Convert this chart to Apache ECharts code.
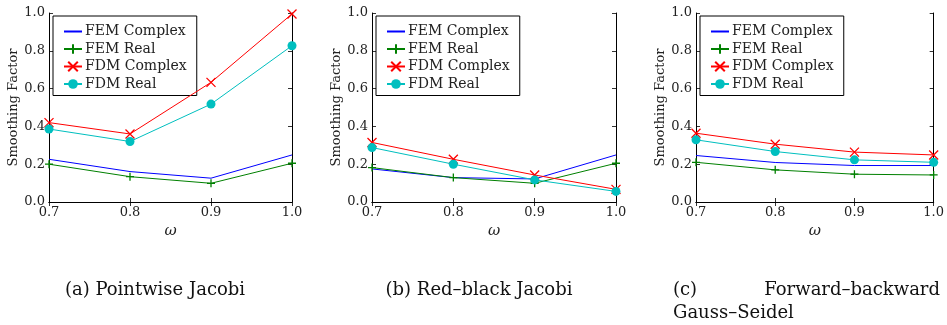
<!DOCTYPE html>
<html>
<head>
<meta charset="utf-8">
<script src="https://cdn.jsdelivr.net/npm/echarts@6/dist/echarts.min.js"></script>
<style>
html,body{margin:0;padding:0;background:#fff;}
#c{width:947px;height:325px;}
</style>
</head>
<body>
<div id="c"></div>
<script>
// ---- data ----
var omega = ['0.7', '0.8', '0.9', '1.0'];
var yTicks = [0, 0.2, 0.4, 0.6, 0.8, 1.0];
var seriesNames = ['FEM Complex', 'FEM Real', 'FDM Complex', 'FDM Real'];
var captions = ['(a) Pointwise Jacobi', '(b) Red\u2013black Jacobi', '(c)', 'Forward\u2013backward', 'Gauss\u2013Seidel'];

// (a) Pointwise Jacobi
var jacFemComplex = [0.226, 0.161, 0.126, 0.249];
var jacFemReal    = [0.200, 0.134, 0.099, 0.205];
var jacFdmComplex = [0.420, 0.360, 0.633, 0.995];
var jacFdmReal    = [0.386, 0.320, 0.518, 0.827];
// (b) Red-black Jacobi
var rbFemComplex = [0.175, 0.129, 0.122, 0.249];
var rbFemReal    = [0.182, 0.129, 0.099, 0.205];
var rbFdmComplex = [0.315, 0.226, 0.143, 0.067];
var rbFdmReal    = [0.288, 0.200, 0.117, 0.056];
// (c) Forward-backward Gauss-Seidel
var gsFemComplex = [0.246, 0.209, 0.193, 0.193];
var gsFemReal    = [0.210, 0.170, 0.147, 0.143];
var gsFdmComplex = [0.364, 0.306, 0.264, 0.249];
var gsFdmReal    = [0.329, 0.267, 0.223, 0.210];

var panels = [
  [jacFemComplex, jacFemReal, jacFdmComplex, jacFdmReal],
  [rbFemComplex, rbFemReal, rbFdmComplex, rbFdmReal],
  [gsFemComplex, gsFemReal, gsFdmComplex, gsFdmReal]
];

// ---- styling ----
var SERIF = 'DejaVu Serif';
var colors = ['#0000ff', '#008000', '#ff0000', '#00bfbf'];
var symbols = [
  'circle',
  'path://M0,5L10,5M5,0L5,10',
  'path://M0,0L10,10M10,0L0,10',
  'circle'
];
var symbolSizes = [2, 8, 9, 9];
var grids = [
  {left: 49, top: 13, width: 243, height: 189},
  {left: 372, top: 13, width: 244, height: 189},
  {left: 696, top: 13, width: 244, height: 189}
];

var option = {
  backgroundColor: '#fff',
  animation: false,
  textStyle: {fontFamily: SERIF},
  grid: [], xAxis: [], yAxis: [], series: [], legend: [], graphic: []
};

grids.forEach(function (g, i) {
  option.grid.push({left: g.left, top: g.top, width: g.width, height: g.height, containLabel: false});
  var axLine = {show: true, lineStyle: {color: '#000', width: 1}};
  var tick = {show: true, inside: true, length: 4, lineStyle: {color: '#000', width: 0.8}};
  option.xAxis.push({
    type: 'category', gridIndex: i, data: omega, boundaryGap: false, position: 'bottom',
    axisLine: axLine, axisTick: Object.assign({alignWithLabel: true}, tick),
    axisLabel: {color: '#222', fontFamily: SERIF, fontSize: 13, margin: 4},
    splitLine: {show: false},
    name: '\u03c9', nameLocation: 'middle', nameGap: 10,
    nameTextStyle: {fontFamily: SERIF, fontStyle: 'italic', fontSize: 15, color: '#222'}
  });
  option.xAxis.push({
    type: 'category', gridIndex: i, data: omega, boundaryGap: false, position: 'top',
    axisLine: axLine, axisTick: tick, axisLabel: {show: false}, splitLine: {show: false}
  });
  option.yAxis.push({
    type: 'value', gridIndex: i, min: 0, max: 1, interval: 0.2, position: 'left',
    axisLine: axLine, axisTick: tick,
    axisLabel: {color: '#222', fontFamily: SERIF, fontSize: 13, margin: 4,
      formatter: function (v) { return v.toFixed(1); }},
    splitLine: {show: false},
    name: 'Smoothing Factor', nameLocation: 'middle', nameRotate: 90, nameGap: 24,
    nameTextStyle: {fontFamily: SERIF, fontSize: 13, color: '#222'}
  });
  option.yAxis.push({
    type: 'value', gridIndex: i, min: 0, max: 1, interval: 0.2, position: 'right',
    axisLine: axLine, axisTick: tick, axisLabel: {show: false}, splitLine: {show: false}
  });

  panels[i].forEach(function (vals, k) {
    option.series.push({
      type: 'line', name: seriesNames[k], xAxisIndex: 2 * i, yAxisIndex: 2 * i,
      data: vals, symbol: symbols[k], symbolSize: symbolSizes[k], showSymbol: k !== 0,
      clip: true, z: 2 + k,
      lineStyle: {color: colors[k], width: 1},
      itemStyle: {color: k === 0 ? 'rgba(0,0,0,0)' : colors[k], borderColor: colors[k],
        borderWidth: (k === 1 || k === 2) ? 1.3 : 0},
      emphasis: {disabled: true}
    });
  });

  option.legend.push({
    data: seriesNames, orient: 'vertical',
    left: g.left + 4, top: 16,
    padding: [8, 10, 4, 10], itemGap: 2.5, itemWidth: 18, itemHeight: 12,
    backgroundColor: '#fff', borderColor: '#000', borderWidth: 1, borderRadius: 0,
    selectedMode: false,
    textStyle: {fontFamily: SERIF, fontSize: 14, color: '#222', lineHeight: 15, padding: [0, 0, 0, -2]}
  });
});

var capFont = '18px DejaVu Serif';
option.graphic = [
  {type: 'text', x: 155, y: 290, style: {text: captions[0], font: capFont, fill: '#111', align: 'center', verticalAlign: 'middle'}},
  {type: 'text', x: 479, y: 290, style: {text: captions[1], font: capFont, fill: '#111', align: 'center', verticalAlign: 'middle'}},
  {type: 'text', x: 673, y: 290, style: {text: captions[2], font: capFont, fill: '#111', align: 'left', verticalAlign: 'middle'}},
  {type: 'text', x: 940, y: 290, style: {text: captions[3], font: capFont, fill: '#111', align: 'right', verticalAlign: 'middle'}},
  {type: 'text', x: 673, y: 313, style: {text: captions[4], font: capFont, fill: '#111', align: 'left', verticalAlign: 'middle'}}
];

var chart = echarts.init(document.getElementById('c'), null, {renderer: 'canvas'});
chart.setOption(option);
</script>
</body>
</html>
